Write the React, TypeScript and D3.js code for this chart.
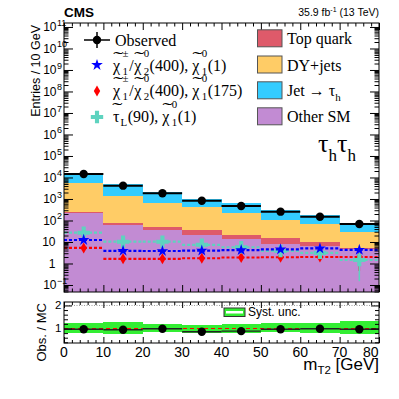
import React, { useEffect, useRef } from 'react'
import {
  axisBottom,
  axisLeft,
  axisRight,
  axisTop,
  scaleLinear,
  scaleLog,
  select,
  stack,
  symbol,
  symbolCross,
  symbolStar,
} from 'd3'

// m_T2 bins [GeV]
const binEdges = [0, 10, 20, 30, 40, 50, 60, 70, 80]

// stacked backgrounds, entries per bin
const otherSM = [216, 62, 36, 21, 13.4, 8.1, 6.2, 4.7]
const topQuark = [41, 17, 14, 14, 7.8, 6.8, 4.1, 0.5]
const dyJets = [5470, 1340, 623, 390, 210, 91, 58.5, 24.9]
const jetFakes = [9970, 3300, 1380, 575, 400, 202, 111, 46.4]
const observed = [14500, 4160, 1840, 830, 470, 257, 150, 69]

// signal benchmarks
const sigStar = [12.4, 3.9, 3.8, 4.0, 4.2, 4.5, 5.0, 4.3]
const sigStarLo = [11.2, 3.4, 3.3, 3.5, 3.7, 4.0, 4.4, 3.8]
const sigStarHi = [13.6, 4.4, 4.3, 4.5, 4.7, 5.0, 5.6, 4.8]
const sigDiamond = [5.3, 1.65, 1.65, 1.75, 1.9, 1.95, 2.0, 2.0]
const sigDiamondLo = [4.6, 1.3, 1.3, 1.4, 1.5, 1.55, 1.6, 0.45]
const sigDiamondHi = [6.0, 2.0, 2.0, 2.1, 2.3, 2.35, 2.4, 2.5]
const sigCross = [27, 10.3, 10.3, 7.4, 5.7, 3.8, 3.1, 1.45]
const sigCrossLo = [23, 8.8, 8.8, 6.2, 4.7, 3.0, 2.3, 0.15]
const sigCrossHi = [31, 11.8, 11.8, 8.6, 6.7, 4.6, 3.9, 3.5]

// ratio panel
const ratio = [0.97, 0.945, 0.99, 0.86, 0.885, 0.97, 0.99, 0.97]
const systUp = [1.24, 1.29, 1.2, 1.17, 1.2, 1.24, 1.24, 1.31]
const systDown = [0.79, 0.74, 0.84, 0.8, 0.82, 0.86, 0.79, 0.74]

// tick labels
const xTickValues = [0, 10, 20, 30, 40, 50, 60, 70, 80]
const decades = [-1, 0, 1, 2, 3, 4, 5, 6, 7, 8, 9, 10, 11]
const ratioTickValues = [1, 2]

const serif = '"Liberation Serif", "Times New Roman", serif'
const sans = '"Liberation Sans", Arial, Helvetica, sans-serif'

const colors = {
  other: '#c28bd3',
  top: '#de5a6a',
  dy: '#ffcc66',
  jet: '#33ccff',
  cross: '#5ed3bf',
  band: '#33ee33',
}

const diamondPath = 'M0,-5.5L3.2,0L0,5.5L-3.2,0Z'

// rough Times advance widths (em) for the small script characters
const charEm: any = { '\u00b1': 0.564, '0': 0.5, '1': 0.5, '2': 0.5, L: 0.611 }

const App = () => {
  const ref = useRef<SVGSVGElement>(null)

  useEffect(() => {
    draw()
  }, [])

  const draw = () => {
    const svg = select(ref.current)
    svg.selectAll('*').remove()

    const x = scaleLinear().domain([0, 80]).range([64, 379])
    const y = scaleLog().domain([0.0472, 1.53e11]).range([292, 23])
    const yr = scaleLinear().domain([0.37, 2.15]).range([343, 302])
    const yMin = y.domain()[0]

    const bins = otherSM.map((_, i) => ({
      lo: binEdges[i],
      hi: binEdges[i + 1],
      mid: (binEdges[i] + binEdges[i + 1]) / 2,
    }))

    // ---- main panel: stacked backgrounds
    const rows = bins.map((b, i) => ({
      ...b,
      other: otherSM[i],
      top: topQuark[i],
      dy: dyJets[i],
      jet: jetFakes[i],
    }))
    const layers = stack<any>().keys(['other', 'top', 'dy', 'jet'])(rows)

    const main = svg.append('g')
    layers.forEach((layer: any) => {
      main
        .append('g')
        .selectAll('rect')
        .data(layer)
        .enter()
        .append('rect')
        .attr('x', (d: any) => x(d.data.lo))
        .attr('width', (d: any) => x(d.data.hi) - x(d.data.lo))
        .attr('y', (d: any) => y(d[1]))
        .attr('height', (d: any) => y(Math.max(d[0], yMin)) - y(d[1]))
        .attr('fill', (colors as any)[layer.key])
        .attr('shape-rendering', 'crispEdges')
    })

    // ---- signals
    const signals = [
      { vals: sigDiamond, lo: sigDiamondLo, hi: sigDiamondHi, color: '#ff0000', shape: 'diamond' },
      { vals: sigCross, lo: sigCrossLo, hi: sigCrossHi, color: colors.cross, shape: 'cross' },
      { vals: sigStar, lo: sigStarLo, hi: sigStarHi, color: '#0000ff', shape: 'star' },
    ]
    const markerPath = (shape: string) =>
      shape === 'star'
        ? symbol(symbolStar, 42)()
        : shape === 'cross'
        ? symbol(symbolCross, 85)()
        : diamondPath

    signals.forEach((s) => {
      const g = main.append('g')
      g.selectAll('.sig-line')
        .data(bins)
        .enter()
        .append('line')
        .attr('x1', (d) => x(d.lo))
        .attr('x2', (d) => x(d.hi))
        .attr('y1', (_, i) => y(s.vals[i]))
        .attr('y2', (_, i) => y(s.vals[i]))
        .attr('stroke', s.color)
        .attr('stroke-width', 2.2)
        .attr('stroke-dasharray', '3,2')
      g.selectAll('.sig-err')
        .data(bins)
        .enter()
        .append('line')
        .attr('x1', (d) => x(d.mid))
        .attr('x2', (d) => x(d.mid))
        .attr('y1', (_, i) => y(s.lo[i]))
        .attr('y2', (_, i) => y(s.hi[i]))
        .attr('stroke', s.color)
        .attr('stroke-width', 1.5)
      g.selectAll('.sig-mark')
        .data(bins)
        .enter()
        .append('path')
        .attr('d', markerPath(s.shape))
        .attr('transform', (d, i) => `translate(${x(d.mid)},${y(s.vals[i])})`)
        .attr('fill', s.color)
    })

    // ---- observed
    const obs = main.append('g')
    obs.selectAll('line')
      .data(bins)
      .enter()
      .append('line')
      .attr('x1', (d) => x(d.lo))
      .attr('x2', (d) => x(d.hi))
      .attr('y1', (_, i) => y(observed[i]))
      .attr('y2', (_, i) => y(observed[i]))
      .attr('stroke', '#000')
      .attr('stroke-width', 2)
    obs.selectAll('circle')
      .data(bins)
      .enter()
      .append('circle')
      .attr('cx', (d) => x(d.mid))
      .attr('cy', (_, i) => y(observed[i]))
      .attr('r', 4.2)
      .attr('fill', '#000')

    // ---- ratio panel
    const rp = svg.append('g')
    rp.selectAll('.band')
      .data(bins)
      .enter()
      .append('rect')
      .attr('x', (d) => x(d.lo))
      .attr('width', (d) => x(d.hi) - x(d.lo))
      .attr('y', (_, i) => yr(systUp[i]))
      .attr('height', (_, i) => yr(systDown[i]) - yr(systUp[i]))
      .attr('fill', colors.band)
      .attr('shape-rendering', 'crispEdges')
    rp.append('line')
      .attr('x1', x(0))
      .attr('x2', x(80))
      .attr('y1', yr(2))
      .attr('y2', yr(2))
      .attr('stroke', '#999')
      .attr('stroke-dasharray', '1,1.5')
    rp.append('line')
      .attr('x1', x(0))
      .attr('x2', x(80))
      .attr('y1', yr(1))
      .attr('y2', yr(1))
      .attr('stroke', '#ff0000')
      .attr('stroke-width', 1.2)
      .attr('stroke-dasharray', '4,3')
    rp.selectAll('.rline')
      .data(bins)
      .enter()
      .append('line')
      .attr('x1', (d) => x(d.lo))
      .attr('x2', (d) => x(d.hi))
      .attr('y1', (_, i) => yr(ratio[i]))
      .attr('y2', (_, i) => yr(ratio[i]))
      .attr('stroke', '#222')
      .attr('stroke-width', 1.4)
    rp.selectAll('circle')
      .data(bins)
      .enter()
      .append('circle')
      .attr('cx', (d) => x(d.mid))
      .attr('cy', (_, i) => yr(ratio[i]))
      .attr('r', 4.2)
      .attr('fill', '#000')

    // ---- frames and ticks
    const frame = (y0: number, y1: number) =>
      svg
        .append('rect')
        .attr('x', 64)
        .attr('y', y0)
        .attr('width', 315)
        .attr('height', y1 - y0)
        .attr('fill', 'none')
        .attr('stroke', '#000')
        .attr('stroke-width', 1)
    frame(23, 292)
    frame(302, 343)

    const ticks = (axis: any, tx: number, ty: number) =>
      svg
        .append('g')
        .attr('transform', `translate(${tx},${ty})`)
        .call(axis)
        .call((g: any) => g.select('.domain').remove())
        .call((g: any) => g.selectAll('text').remove())

    const xMinor: number[] = []
    for (let v = 0; v <= 80; v += 2) if (v % 10 !== 0) xMinor.push(v)
    const logMinor: number[] = []
    for (let k = -2; k <= 11; k++)
      for (let m = 2; m <= 9; m++) {
        const v = m * Math.pow(10, k)
        if (v > yMin && v < y.domain()[1]) logMinor.push(v)
      }
    const rMinor: number[] = []
    for (let v = 0.4; v < 2.15; v += 0.2) {
      const r = Math.round(v * 10) / 10
      if (r !== 1 && r !== 2) rMinor.push(r)
    }
    const majors = decades.map((k) => Math.pow(10, k))

    // main panel
    ticks(axisBottom(x).tickValues(xTickValues).tickSize(-7).tickFormat(() => ''), 0, 292)
    ticks(axisBottom(x).tickValues(xMinor).tickSize(-3.5).tickFormat(() => ''), 0, 292)
    ticks(axisTop(x).tickValues(xTickValues).tickSize(-7).tickFormat(() => ''), 0, 23)
    ticks(axisTop(x).tickValues(xMinor).tickSize(-3.5).tickFormat(() => ''), 0, 23)
    ticks(axisLeft(y).tickValues(majors).tickSize(-9).tickFormat(() => ''), 64, 0)
    ticks(axisLeft(y).tickValues(logMinor).tickSize(-4.5).tickFormat(() => ''), 64, 0)
    ticks(axisRight(y).tickValues(majors).tickSize(-9).tickFormat(() => ''), 379, 0)
    ticks(axisRight(y).tickValues(logMinor).tickSize(-4.5).tickFormat(() => ''), 379, 0)
    // ratio panel
    ticks(axisBottom(x).tickValues(xTickValues).tickSize(-6).tickFormat(() => ''), 0, 343)
    ticks(axisBottom(x).tickValues(xMinor).tickSize(-3).tickFormat(() => ''), 0, 343)
    ticks(axisTop(x).tickValues(xTickValues).tickSize(-6).tickFormat(() => ''), 0, 302)
    ticks(axisTop(x).tickValues(xMinor).tickSize(-3).tickFormat(() => ''), 0, 302)
    ticks(axisLeft(yr).tickValues(ratioTickValues).tickSize(-8).tickFormat(() => ''), 64, 0)
    ticks(axisLeft(yr).tickValues(rMinor).tickSize(-4).tickFormat(() => ''), 64, 0)
    ticks(axisRight(yr).tickValues(ratioTickValues).tickSize(-8).tickFormat(() => ''), 379, 0)
    ticks(axisRight(yr).tickValues(rMinor).tickSize(-4).tickFormat(() => ''), 379, 0)

    // ---- tick labels
    const lbl = svg.append('g').style('font-family', sans).attr('fill', '#000')
    decades.forEach((k) => {
      const ty = y(Math.pow(10, k)) + 4.5
      if (k === 0 || k === 1) {
        lbl.append('text').attr('x', 55.5).attr('y', ty).attr('text-anchor', 'end')
          .style('font-size', '12px').text(k === 0 ? '1' : '10')
      } else {
        lbl.append('text').attr('x', 56.5).attr('y', ty).attr('text-anchor', 'end')
          .style('font-size', '12px').text('10')
        lbl.append('text').attr('x', 57).attr('y', ty - 5.5)
          .style('font-size', '9px').text(k < 0 ? '\u22121' : String(k))
      }
    })
    ratioTickValues.forEach((v) => {
      lbl.append('text').attr('x', 61.5).attr('y', yr(v) + 4).attr('text-anchor', 'end')
        .style('font-size', '11.5px').text(String(v))
    })
    xTickValues.forEach((v, i) => {
      const last = i === xTickValues.length - 1
      lbl.append('text')
        .attr('x', last ? x(v) - 0.5 : x(v))
        .attr('y', 356.5)
        .attr('text-anchor', last ? 'end' : 'middle')
        .style('font-size', '14px')
        .text(String(v))
    })

    // axis titles
    const xt = lbl.append('text').attr('x', 379).attr('y', 370).attr('text-anchor', 'end')
      .style('font-size', '17px')
    xt.append('tspan').text('m')
    xt.append('tspan').attr('dy', 4).style('font-size', '11.5px').text('T2')
    xt.append('tspan').attr('dy', -4).text(' [GeV]')

    lbl.append('text').attr('transform', 'translate(39.5,25) rotate(-90)')
      .attr('text-anchor', 'end').style('font-size', '12.5px').text('Entries  / 10 GeV')
    lbl.append('text').attr('transform', 'translate(46,303) rotate(-90)')
      .attr('text-anchor', 'end').style('font-size', '13px').text('Obs. / MC')

    lbl.append('text').attr('x', 64).attr('y', 16.5).style('font-size', '13.5px')
      .style('font-weight', 'bold').text('CMS')
    const lumi = lbl.append('text').attr('x', 379).attr('y', 16).attr('text-anchor', 'end')
      .style('font-size', '10.5px')
    lumi.append('tspan').text('35.9 fb')
    lumi.append('tspan').attr('dy', -4).style('font-size', '7px').text('-1')
    lumi.append('tspan').attr('dy', 4).text(' (13 TeV)')

    // ---- legend
    const leg = svg.append('g').attr('fill', '#000')

    // serif text with tilde accents and stacked super/subscripts, laid out left to right
    const rich = (x0: number, yb: number, size: number, parts: any[]) => {
      const small = size * 0.68
      let cx = x0
      parts.forEach((p) => {
        if (p.t !== undefined) {
          const t = leg.append('text').attr('x', cx).attr('y', yb)
            .style('font-family', serif).style('font-size', `${size}px`).text(p.t)
          const w = (t.node() as any).getBBox().width || size * 0.55
          leg.append('text')
            .attr('transform', `translate(${cx + w / 2 + 0.8},${yb - 8.5}) scale(1.9,1)`)
            .attr('text-anchor', 'middle')
            .style('font-family', serif)
            .style('font-size', `${size}px`)
            .text('\u02dc')
          cx += w
        } else if (p.n !== undefined) {
          const t = leg.append('text').attr('x', cx).attr('y', yb)
            .style('font-family', serif).style('font-size', `${size}px`).text(p.n)
          cx += (t.node() as any).getBBox().width || p.n.length * size * 0.45
          if (p.n.endsWith(' ')) cx += size * 0.25
        } else {
          let w = 0
          if (p.sup !== undefined) {
            leg.append('text').attr('x', cx + 0.5).attr('y', yb - 0.85 * size)
              .style('font-family', serif).style('font-size', `${small}px`).text(p.sup)
            w = Math.max(w, (charEm[p.sup] || 0.5) * small)
          }
          if (p.sub !== undefined) {
            leg.append('text').attr('x', cx + 0.5).attr('y', yb + 0.28 * size)
              .style('font-family', serif).style('font-size', `${small}px`).text(p.sub)
            w = Math.max(w, (charEm[p.sub] || 0.5) * small)
          }
          cx += w + 1
        }
      })
    }

    // observed entry
    leg.append('line').attr('x1', 84).attr('x2', 110).attr('y1', 40).attr('y2', 40)
      .attr('stroke', '#000').attr('stroke-width', 1.5)
    leg.append('line').attr('x1', 97).attr('x2', 97).attr('y1', 32).attr('y2', 48)
      .attr('stroke', '#000').attr('stroke-width', 1.5)
    leg.append('circle').attr('cx', 97).attr('cy', 40).attr('r', 4.2)
    leg.append('text').attr('x', 115).attr('y', 45.5).style('font-family', serif)
      .style('font-size', '16px').text('Observed')

    leg.append('path').attr('d', markerPath('star')).attr('transform', 'translate(97,65)')
      .attr('fill', '#0000ff')
    leg.append('path').attr('d', diamondPath).attr('transform', 'translate(97,91)')
      .attr('fill', '#ff0000')
    leg.append('path').attr('d', markerPath('cross')).attr('transform', 'translate(97,117)')
      .attr('fill', colors.cross)

    const chi = (sup: string, sub: string) => [{ t: '\u03c7' }, { sup, sub }]
    rich(113, 71, 16, [
      ...chi('\u00b1', '1'), { n: '/' }, ...chi('0', '2'), { n: '(400), ' }, ...chi('0', '1'), { n: '(1)' },
    ])
    rich(113, 96, 16, [
      ...chi('\u00b1', '1'), { n: '/' }, ...chi('0', '2'), { n: '(400), ' }, ...chi('0', '1'), { n: '(175)' },
    ])
    rich(113, 122, 16, [
      { t: '\u03c4' }, { sub: 'L' }, { n: '(90), ' }, ...chi('0', '1'), { n: '(1)' },
    ])

    const boxes = [
      { color: colors.top, cy: 38.3 },
      { color: colors.dy, cy: 64.5 },
      { color: colors.jet, cy: 90.3 },
      { color: colors.other, cy: 116.3 },
    ]
    boxes.forEach((b) => {
      leg.append('rect').attr('x', 257.5).attr('y', b.cy - 8.5).attr('width', 24.5).attr('height', 17)
        .attr('fill', b.color).attr('stroke', '#555').attr('stroke-width', 1)
    })
    const rt = (yb: number) =>
      leg.append('text').attr('x', 287).attr('y', yb).style('font-family', serif).style('font-size', '16px')
    rt(43.5).text('Top quark')
    rt(70.5).text('DY+jets')
    const jt = rt(96)
    jt.append('tspan').text('Jet \u2192 \u03c4')
    jt.append('tspan').attr('dy', 4.5).style('font-size', '11px').text('h')
    rt(122).text('Other SM')

    // channel label
    const ch = leg.append('text').attr('x', 318).attr('y', 152).style('font-family', serif)
      .style('font-size', '26px')
    ch.append('tspan').text('\u03c4')
    ch.append('tspan').attr('dy', 9).style('font-size', '17px').text('h')
    ch.append('tspan').attr('dy', -9).text('\u03c4')
    ch.append('tspan').attr('dy', 9).style('font-size', '17px').text('h')

    // ratio legend
    leg.append('rect').attr('x', 224).attr('y', 308).attr('width', 21).attr('height', 8.5)
      .attr('fill', colors.band).attr('stroke', '#333').attr('stroke-width', 1)
    leg.append('rect').attr('x', 226).attr('y', 311).attr('width', 17).attr('height', 2.5)
      .attr('fill', '#fff')
    leg.append('text').attr('x', 248).attr('y', 316).style('font-family', sans)
      .style('font-size', '12px').text('Syst. unc.')
  }

  return (
    <div className='mt2-wrapper'>
      <svg
        ref={ref}
        width={399}
        height={399}
        style={{ position: 'absolute', left: 0, top: 0, background: '#fff' }}
      ></svg>
    </div>
  )
}

export default App
